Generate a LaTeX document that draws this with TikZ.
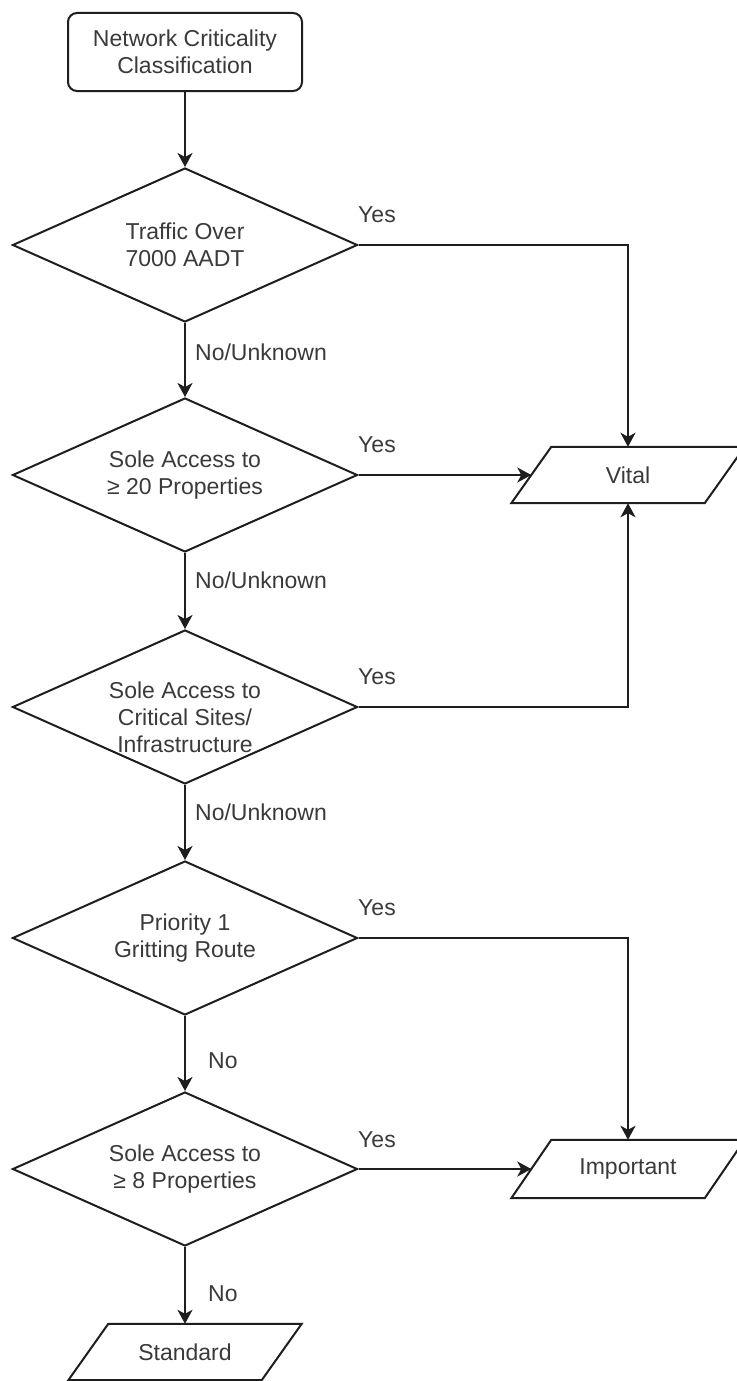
\documentclass[tikz,border=0pt]{standalone}
\usepackage{fontspec}
\setmainfont{Liberation Sans}
\usetikzlibrary{shapes.geometric,arrows.meta}
\definecolor{ln}{HTML}{1E1E1E}
\definecolor{tx}{HTML}{3A3A3A}
\tikzset{
  every node/.style={font=\fontsize{23}{27}\selectfont, text=tx},
  startbox/.style={draw=ln, line width=2pt, rounded corners=9pt, minimum width=234pt, minimum height=78pt, align=center, inner sep=0pt},
  decision/.style={draw=ln, line width=2pt, diamond, aspect=2.24, minimum width=345pt, minimum height=154pt, inner sep=0pt},
  outbox/.style={rectangle, minimum width=193pt, minimum height=56pt, inner sep=0pt},
  lbl/.style={inner sep=0pt},
  arr/.style={draw=ln, line width=2pt, -{Stealth[length=14pt,width=15pt,inset=4pt]}},
  ln/.style={draw=ln, line width=2pt},
}
\newcommand{\para}[1]{\draw[ln] ([xshift=-20pt]#1.south west) -- ([xshift=20pt]#1.north west) -- ([xshift=20pt]#1.north east) -- ([xshift=-20pt]#1.south east) -- cycle;}
\begin{document}
\begin{tikzpicture}[x=1pt,y=-1pt]
\useasboundingbox (0,0) rectangle (736,1381);
\fill[white] (0,0) rectangle (736,1381);

\node[startbox] (start) at (185,52) {Network Criticality\\Classification};

\node[decision, label={[align=center, text=tx]center:Traffic Over\\7000 AADT}] (d1) at (185,245) {};
\node[decision, label={[align=center, text=tx]center:Sole Access to\\≥ 20 Properties}] (d2) at (185,475) {};
\node[decision, label={[align=center, text=tx, yshift=-10pt]center:Sole Access to\\Critical Sites/\\Infrastructure}] (d3) at (185,707) {};
\node[decision, label={[align=center, text=tx]center:Priority 1\\Gritting Route}] (d4) at (185,938) {};
\node[decision, label={[align=center, text=tx]center:Sole Access to\\≥ 8 Properties}] (d5) at (185,1169) {};

\node[outbox] (vital) at (628,475) {Vital};
\para{vital}
\node[outbox, minimum height=58pt] (important) at (628,1169) {Important};
\para{important}
\node[outbox] (standard) at (185,1352) {Standard};
\para{standard}

\draw[arr] (start.south) -- (d1.north);
\draw[arr] (d1.east) -| (vital.north);
\draw[arr] (d1.south) -- (d2.north);
\draw[arr] (d2.east) -- (vital.west);
\draw[arr] (d2.south) -- (d3.north);
\draw[arr] (d3.east) -| (vital.south);
\draw[arr] (d3.south) -- (d4.north);
\draw[arr] (d4.east) -| (important.north);
\draw[arr] (d4.south) -- (d5.north);
\draw[arr] (d5.east) -- (important.west);
\draw[arr] (d5.south) -- (standard.north);

\node[lbl] (y1) at (377,215) {Yes};
\node[lbl] (y2) at (377,445) {Yes};
\node[lbl] (y3) at (377,677) {Yes};
\node[lbl] (y4) at (377,908) {Yes};
\node[lbl] (y5) at (377,1140) {Yes};
\node[lbl, anchor=west] (n1) at (195,352) {No/Unknown};
\node[lbl, anchor=west] (n2) at (195,580) {No/Unknown};
\node[lbl, anchor=west] (n3) at (195,812) {No/Unknown};
\node[lbl, anchor=west] (n4) at (208,1061) {No};
\node[lbl, anchor=west] (n5) at (208,1294) {No};
\end{tikzpicture}
\end{document}
